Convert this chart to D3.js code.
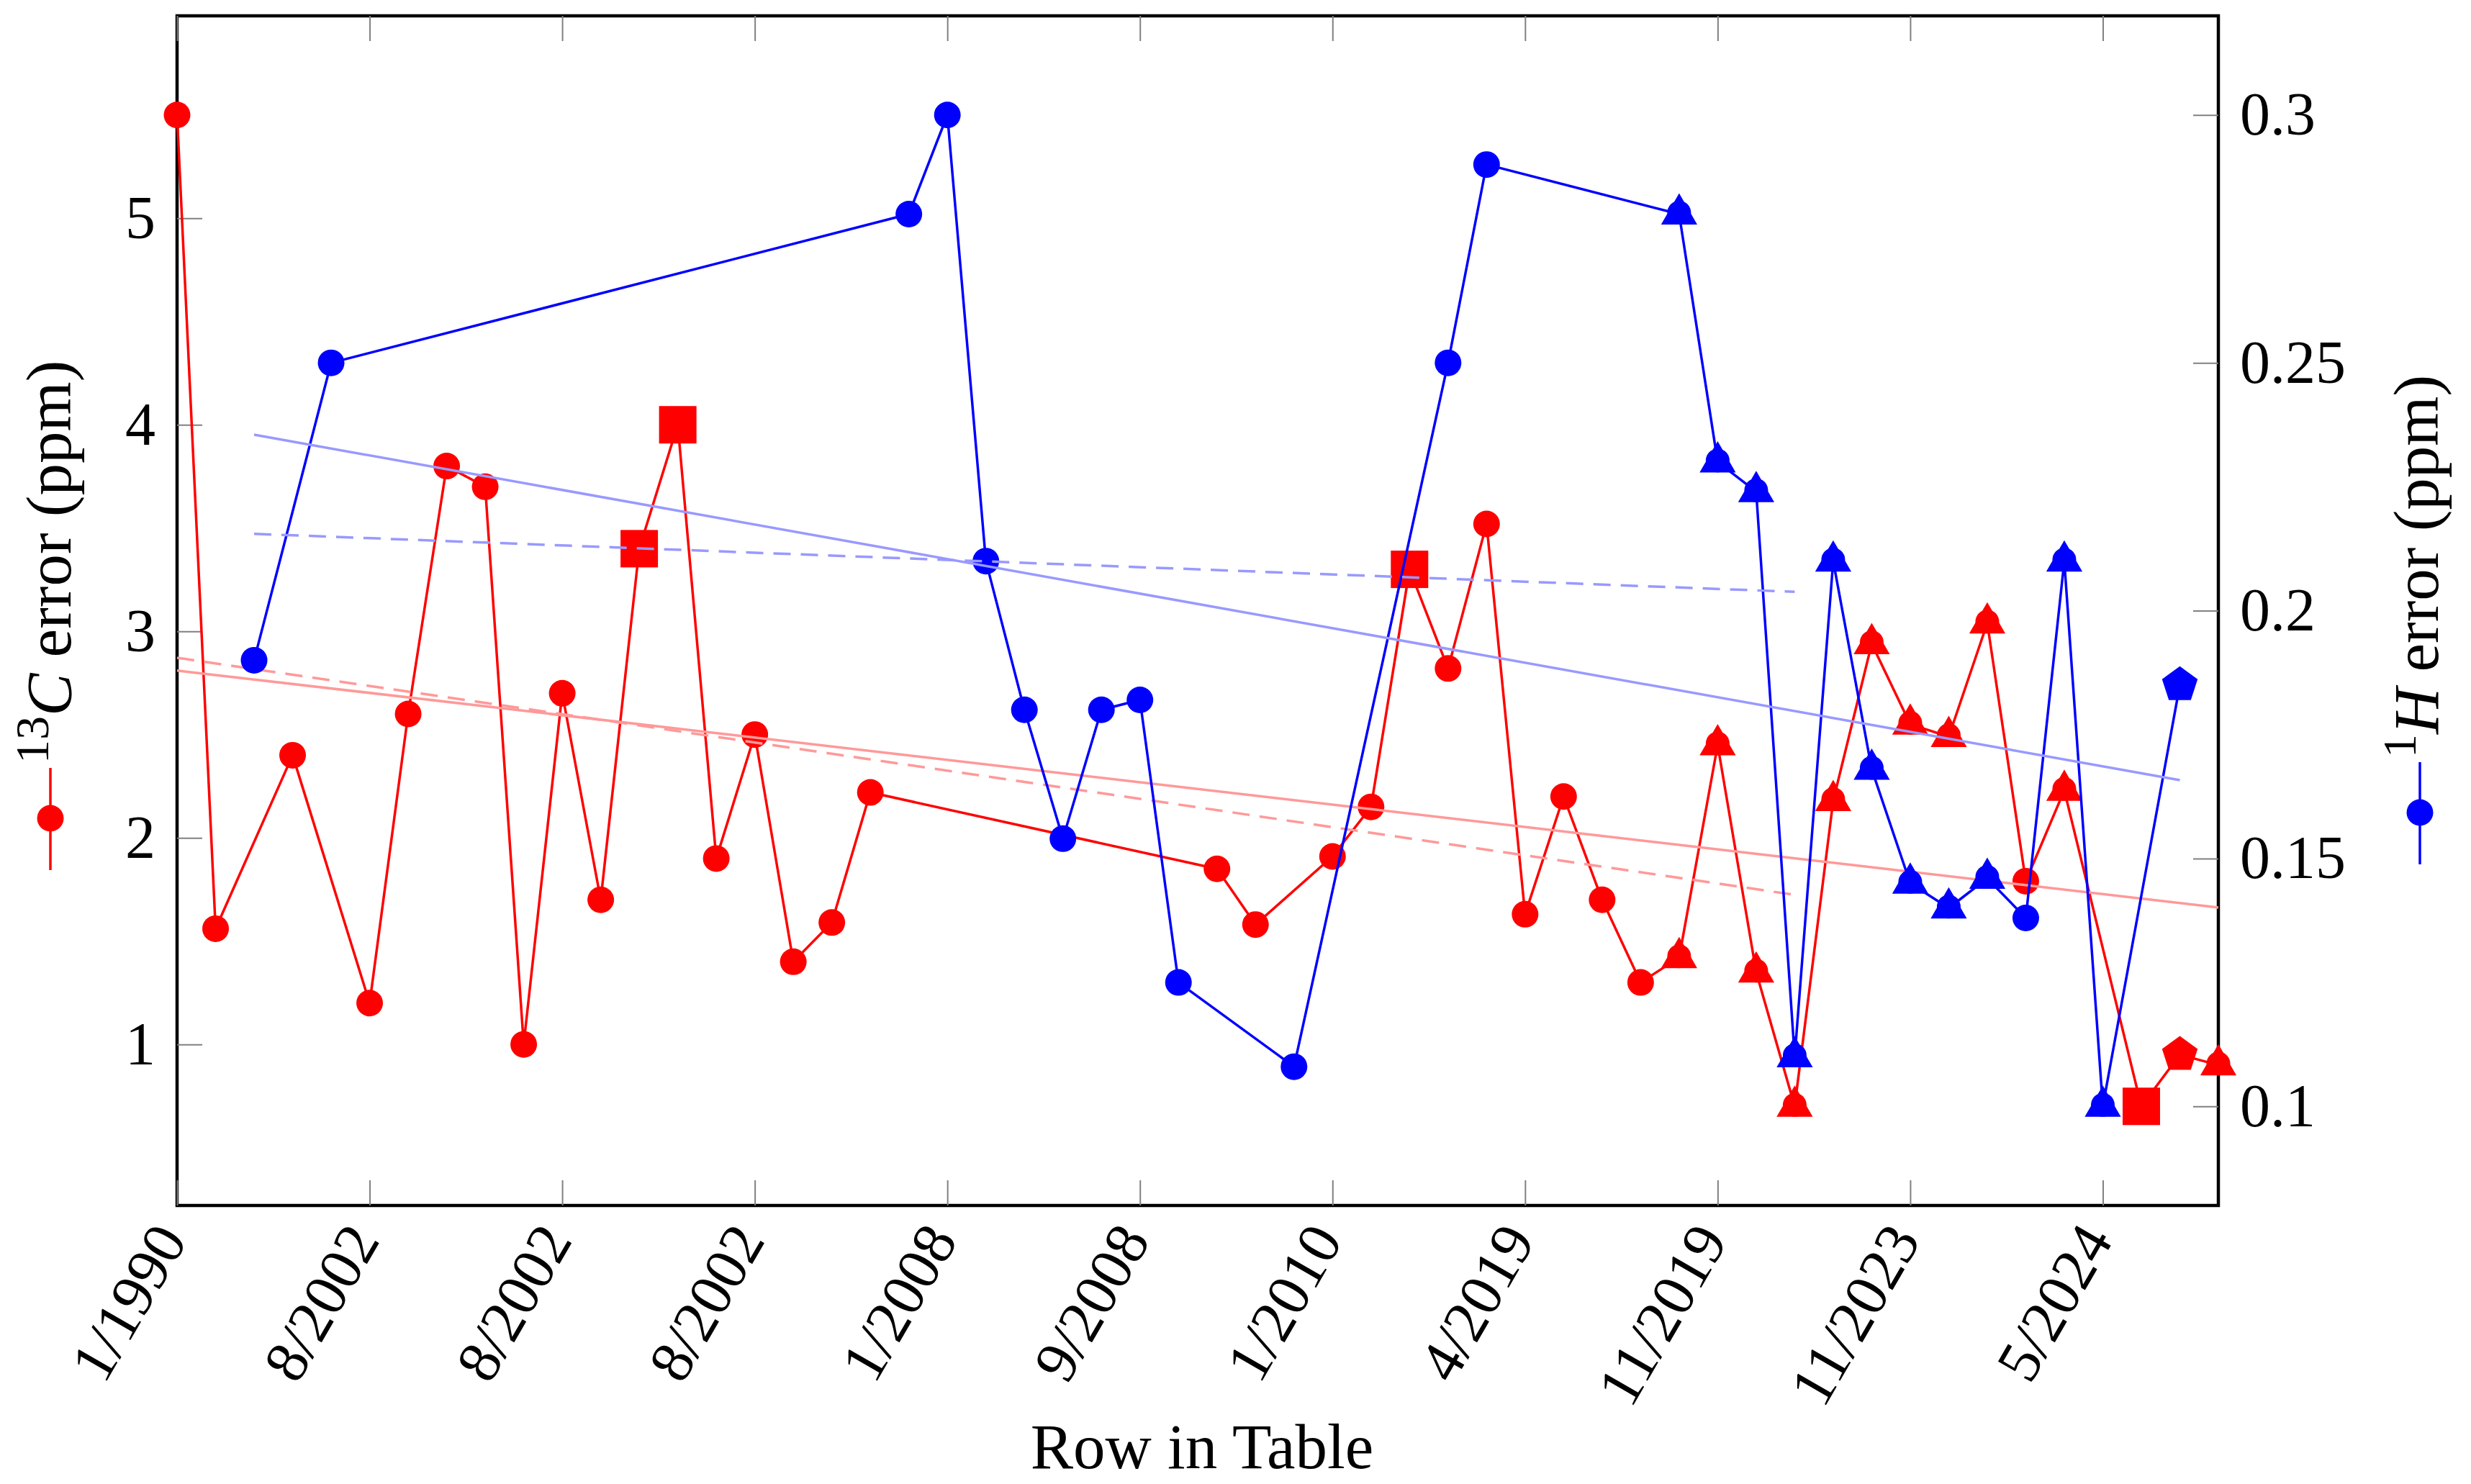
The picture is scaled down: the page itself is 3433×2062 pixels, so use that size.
<!DOCTYPE html>
<html>
<head>
<meta charset="utf-8">
<script src="https://cdn.jsdelivr.net/npm/d3@7"></script>
<style>
  body { margin: 0; background: #fff; }
  svg { display: block; font-family: "Liberation Serif", "DejaVu Serif", serif; }
</style>
</head>
<body>
<div id="chart"></div>
<script>
// x ticks: every 5th row of the table, labelled with its date
const tickRows = [0, 5, 10, 15, 20, 25, 30, 35, 40, 45, 50];
const tickLabels = ['1/1990', '8/2002', '8/2002', '8/2002', '1/2008', '9/2008', '1/2010', '4/2019', '11/2019', '11/2023', '5/2024'];

// 13C error (left axis); c circle, s square, t triangle, p pentagon
const carbonRows = [0, 1, 3, 5, 6, 7, 8, 9, 10, 11, 12, 13, 14, 15, 16, 17, 18, 27, 28, 30, 31, 32, 33, 34, 35, 36, 37, 38, 39, 40, 41, 42, 43, 44, 45, 46, 47, 48, 49, 51, 52, 53];
const carbonErr = [5.5, 1.56, 2.4, 1.2, 2.6, 3.8, 3.7, 1.0, 2.7, 1.7, 3.4, 4.0, 1.9, 2.5, 1.4, 1.59, 2.22, 1.85, 1.58, 1.91, 2.15, 3.3, 2.82, 3.52, 1.63, 2.2, 1.7, 1.3, 1.42, 2.45, 1.35, 0.7, 2.18, 2.94, 2.55, 2.49, 3.04, 1.79, 2.23, 0.7, 0.95, 0.9];
const carbonMarks = ['c', 'c', 'c', 'c', 'c', 'c', 'c', 'c', 'c', 'c', 's', 's', 'c', 'c', 'c', 'c', 'c', 'c', 'c', 'c', 'c', 's', 'c', 'c', 'c', 'c', 'c', 'c', 't', 't', 't', 't', 't', 't', 't', 't', 't', 'c', 't', 's', 'p', 't'];

// 1H error (right axis)
const protonRows = [2, 4, 19, 20, 21, 22, 23, 24, 25, 26, 29, 33, 34, 39, 40, 41, 42, 43, 44, 45, 46, 47, 48, 49, 50, 52];
const protonErr = [0.19, 0.25, 0.28, 0.30, 0.21, 0.18, 0.154, 0.18, 0.182, 0.125, 0.108, 0.25, 0.29, 0.28, 0.23, 0.224, 0.11, 0.21, 0.168, 0.145, 0.14, 0.146, 0.138, 0.21, 0.10, 0.185];
const protonMarks = ['c', 'c', 'c', 'c', 'c', 'c', 'c', 'c', 'c', 'c', 'c', 'c', 'c', 't', 't', 't', 't', 't', 't', 't', 't', 't', 'c', 't', 't', 'p'];

// linear fits (end points), full range and partial range
const carbonFitRows = [0, 53];
const carbonFit = [2.81, 1.663];
const carbonFitPartRows = [0, 42];
const carbonFitPart = [2.872, 1.724];
const protonFitRows = [2, 52];
const protonFit = [0.2355, 0.1658];
const protonFitPartRows = [2, 42];
const protonFitPart = [0.2155, 0.2038];

const carbonTicks = [1, 2, 3, 4, 5];
const protonTicks = [0.1, 0.15, 0.2, 0.25, 0.3];

const width = 3433;
const height = 2062;
const plotLeft = 246, plotRight = 3082, plotTop = 22, plotBottom = 1675;
const fontSize = 84;
const labelSize = 89;

const red = '#ff0000', blue = '#0000ff';
const lightRed = '#ff9999', lightBlue = '#9999ff';

const x = d3.scaleLinear().domain([0, 53]).range([plotLeft, plotRight]);
const yL = d3.scaleLinear().domain([0.22, 5.98]).range([plotBottom, plotTop]);
const yR = d3.scaleLinear().domain([0.08, 0.32]).range([plotBottom, plotTop]);

const svg = d3.select('#chart').append('svg')
    .attr('width', width)
    .attr('height', height);

svg.append('rect').attr('width', width).attr('height', height).attr('fill', '#fff');

// frame
svg.append('rect')
    .attr('x', plotLeft).attr('y', plotTop)
    .attr('width', plotRight - plotLeft).attr('height', plotBottom - plotTop)
    .attr('fill', 'none').attr('stroke', '#000').attr('stroke-width', 4.5);

function styleAxis(g) {
    g.select('.domain').remove();
    g.selectAll('.tick line').attr('stroke', '#808080').attr('stroke-width', 2);
    g.selectAll('.tick text').attr('font-size', fontSize).attr('fill', '#000')
        .attr('font-family', '"Liberation Serif", serif');
}

// bottom axis with rotated labels
const xAxis = svg.append('g')
    .attr('transform', `translate(0, ${plotBottom})`)
    .call(d3.axisBottom(x).tickValues(tickRows).tickSizeInner(-35).tickSizeOuter(0)
        .tickFormat((d, i) => tickLabels[i]));
styleAxis(xAxis);
xAxis.selectAll('.tick text')
    .attr('y', 0).attr('dy', 0)
    .attr('text-anchor', 'end')
    .attr('transform', 'translate(15, 48) rotate(-60)');

// top ticks, no labels
const xTop = svg.append('g')
    .attr('transform', `translate(0, ${plotTop})`)
    .call(d3.axisTop(x).tickValues(tickRows).tickSizeInner(-35).tickSizeOuter(0).tickFormat(''));
styleAxis(xTop);

const yAxisL = svg.append('g')
    .attr('transform', `translate(${plotLeft}, 0)`)
    .call(d3.axisLeft(yL).tickValues(carbonTicks).tickSizeInner(-35).tickSizeOuter(0).tickPadding(30)
        .tickFormat(d => String(d)));
styleAxis(yAxisL);

const yAxisR = svg.append('g')
    .attr('transform', `translate(${plotRight}, 0)`)
    .call(d3.axisRight(yR).tickValues(protonTicks).tickSizeInner(-35).tickSizeOuter(0).tickPadding(30)
        .tickFormat(d => String(d)));
styleAxis(yAxisR);

// markers
function drawMark(g, type, cx, cy, color) {
    if (type === 'c') {
        g.append('circle').attr('cx', cx).attr('cy', cy).attr('r', 18.5).attr('fill', color);
    } else if (type === 's') {
        g.append('rect').attr('x', cx - 26).attr('y', cy - 26)
            .attr('width', 52).attr('height', 52).attr('fill', color);
    } else if (type === 't') {
        const r = 29;
        const pts = [[0, -r], [r * 0.866, r / 2], [-r * 0.866, r / 2]];
        g.append('polygon')
            .attr('points', pts.map(p => (cx + p[0]) + ',' + (cy + p[1])).join(' '))
            .attr('fill', color);
        g.append('circle').attr('cx', cx).attr('cy', cy - 2).attr('r', 16.5).attr('fill', color);
    } else if (type === 'p') {
        const r = 26;
        const pts = d3.range(5).map(k => {
            const a = -Math.PI / 2 + k * 2 * Math.PI / 5;
            return (cx + r * Math.cos(a)) + ',' + (cy + r * Math.sin(a));
        });
        g.append('polygon').attr('points', pts.join(' ')).attr('fill', color);
    }
}

function drawSeries(rows, vals, marks, yScale, color) {
    const g = svg.append('g');
    const line = d3.line().x(d => x(d[0])).y(d => yScale(d[1]));
    g.append('path')
        .datum(rows.map((r, i) => [r, vals[i]]))
        .attr('d', line)
        .attr('fill', 'none')
        .attr('stroke', color)
        .attr('stroke-width', 3.5)
        .attr('stroke-linejoin', 'round');
    rows.forEach((r, i) => drawMark(g, marks[i], x(r), yScale(vals[i]), color));
}

function drawFit(rows, vals, yScale, color, dashed) {
    const line = d3.line().x(d => x(d[0])).y(d => yScale(d[1]));
    svg.append('path')
        .datum(rows.map((r, i) => [r, vals[i]]))
        .attr('d', line)
        .attr('fill', 'none')
        .attr('stroke', color)
        .attr('stroke-width', 3.5)
        .attr('stroke-dasharray', dashed ? '24 14' : null);
}

drawSeries(carbonRows, carbonErr, carbonMarks, yL, red);
drawFit(carbonFitRows, carbonFit, yL, lightRed, false);
drawFit(carbonFitPartRows, carbonFitPart, yL, lightRed, true);

drawSeries(protonRows, protonErr, protonMarks, yR, blue);
drawFit(protonFitRows, protonFit, yR, lightBlue, false);
drawFit(protonFitPartRows, protonFitPart, yR, lightBlue, true);

// x label
svg.append('text')
    .attr('x', (plotLeft + plotRight) / 2 + 6)
    .attr('y', 2040)
    .attr('text-anchor', 'middle')
    .attr('font-size', labelSize)
    .text('Row in Table');

// y labels with the legend line rotated along with them
function yLabel(bx, by, sup, sym, color, lineX) {
    const t = svg.append('text')
        .attr('transform', `translate(${bx}, ${by}) rotate(-90)`)
        .attr('text-anchor', 'start')
        .attr('font-size', labelSize);
    t.append('tspan').attr('font-size', 66).attr('dy', -31).text(sup);
    t.append('tspan').attr('font-style', 'italic').attr('dy', 31).text(sym);
    t.append('tspan').text(' error (ppm)');

    svg.append('line')
        .attr('x1', lineX).attr('x2', lineX)
        .attr('y1', by + 6).attr('y2', by + 148)
        .attr('stroke', color).attr('stroke-width', 3.5);
    svg.append('circle').attr('cx', lineX).attr('cy', by + 76).attr('r', 18.5).attr('fill', color);
}

yLabel(98, 1061, '13', 'C', red, 70);
yLabel(3387, 1053, '1', 'H', blue, 3362);
</script>
</body>
</html>
